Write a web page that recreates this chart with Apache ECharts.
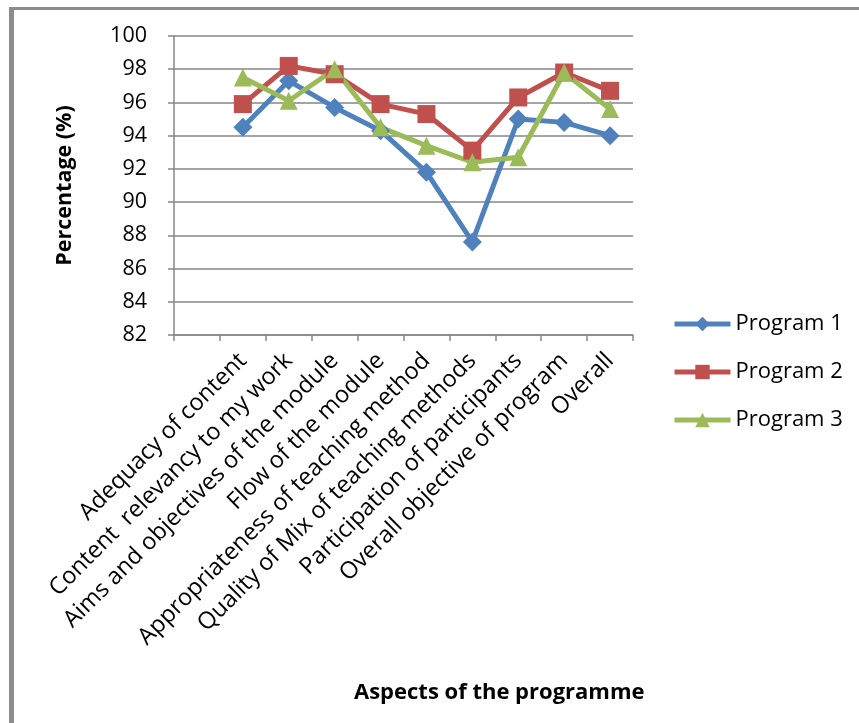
<!DOCTYPE html>
<html>
<head>
<meta charset="utf-8">
<script src="https://cdn.jsdelivr.net/npm/echarts@6/dist/echarts.min.js"></script>
<style>
  html, body { margin: 0; padding: 0; background: #fff; }
  #frame {
    position: absolute; left: 9px; top: 7px; right: 0; bottom: 0;
    border-top: 3px solid #8c8c8c; border-left: 5px solid #8c8c8c;
  }
  #chart { position: absolute; left: 0; top: 0; width: 859px; height: 723px; }
</style>
</head>
<body>
<div id="frame"></div>
<div id="chart"></div>
<script>
// categories (first band is empty, as in the original)
var categories = ['', 'Adequacy of content', 'Content  relevancy to my work',
  'Aims and objectives of the module', 'Flow of the module',
  'Appropriateness of teaching method', 'Quality of Mix of teaching methods',
  'Participation of participants', 'Overall objective of program', 'Overall'];

var program1 = [null, 94.5, 97.3, 95.7, 94.3, 91.8, 87.6, 95.0, 94.8, 94.0];
var program2 = [null, 95.9, 98.2, 97.7, 95.9, 95.3, 93.1, 96.3, 97.8, 96.7];
var program3 = [null, 97.5, 96.1, 98.0, 94.5, 93.4, 92.4, 92.7, 97.8, 95.6];

var yTicks = { min: 82, max: 100, step: 2 };

var font = 'Open Sans';
var gridColor = '#868686';

var myChart = echarts.init(document.getElementById('chart'));

function lineSeries(name, data, color, symbol, size) {
  return {
    name: name,
    type: 'line',
    data: data,
    symbol: symbol,
    symbolSize: size,
    lineStyle: { color: color, width: 5 },
    itemStyle: { color: color },
    emphasis: { disabled: true },
    z: 3
  };
}

var option = {
  animation: false,
  textStyle: { fontFamily: font },
  grid: { left: 174, right: 226, top: 36, bottom: 388 },
  legend: {
    orient: 'vertical',
    left: 672,
    top: 312,
    padding: 0,
    itemWidth: 56,
    itemHeight: 18,
    itemGap: 24,
    lineStyle: { width: 5 },
    textStyle: { fontFamily: font, fontSize: 22, color: '#000', lineHeight: 24 },
    data: ['Program 1', 'Program 2', 'Program 3']
  },
  xAxis: {
    type: 'category',
    data: categories,
    boundaryGap: true,
    axisLine: { lineStyle: { color: gridColor, width: 1.5 } },
    axisTick: { show: true, length: 6, interval: 0, lineStyle: { color: gridColor, width: 1.5 } },
    axisLabel: { interval: 0, rotate: 45, margin: 22, fontSize: 23.5, color: '#000', fontFamily: font }
  },
  yAxis: {
    type: 'value',
    min: yTicks.min,
    max: yTicks.max,
    interval: yTicks.step,
    name: 'Percentage (%)',
    nameLocation: 'middle',
    nameGap: 98,
    nameTextStyle: { fontFamily: font, fontSize: 21.5, fontWeight: 'bold', color: '#000' },
    axisLine: { show: true, lineStyle: { color: gridColor, width: 1.5 } },
    axisTick: { show: true, length: 6, lineStyle: { color: gridColor, width: 1.5 } },
    axisLabel: { fontSize: 21.5, color: '#000', margin: 27, fontFamily: font },
    splitLine: { lineStyle: { color: gridColor, width: 1.5 } }
  },
  graphic: [{
    type: 'text',
    left: 354,
    top: 682,
    style: { text: 'Aspects of the programme', font: 'bold 22px "Open Sans"', fill: '#000' }
  }],
  series: [
    lineSeries('Program 1', program1, '#4F81BD', 'diamond', 19),
    lineSeries('Program 2', program2, '#C0504D', 'rect', 18),
    lineSeries('Program 3', program3, '#9BBB59', 'triangle', 18)
  ]
};

myChart.setOption(option);
</script>
</body>
</html>
